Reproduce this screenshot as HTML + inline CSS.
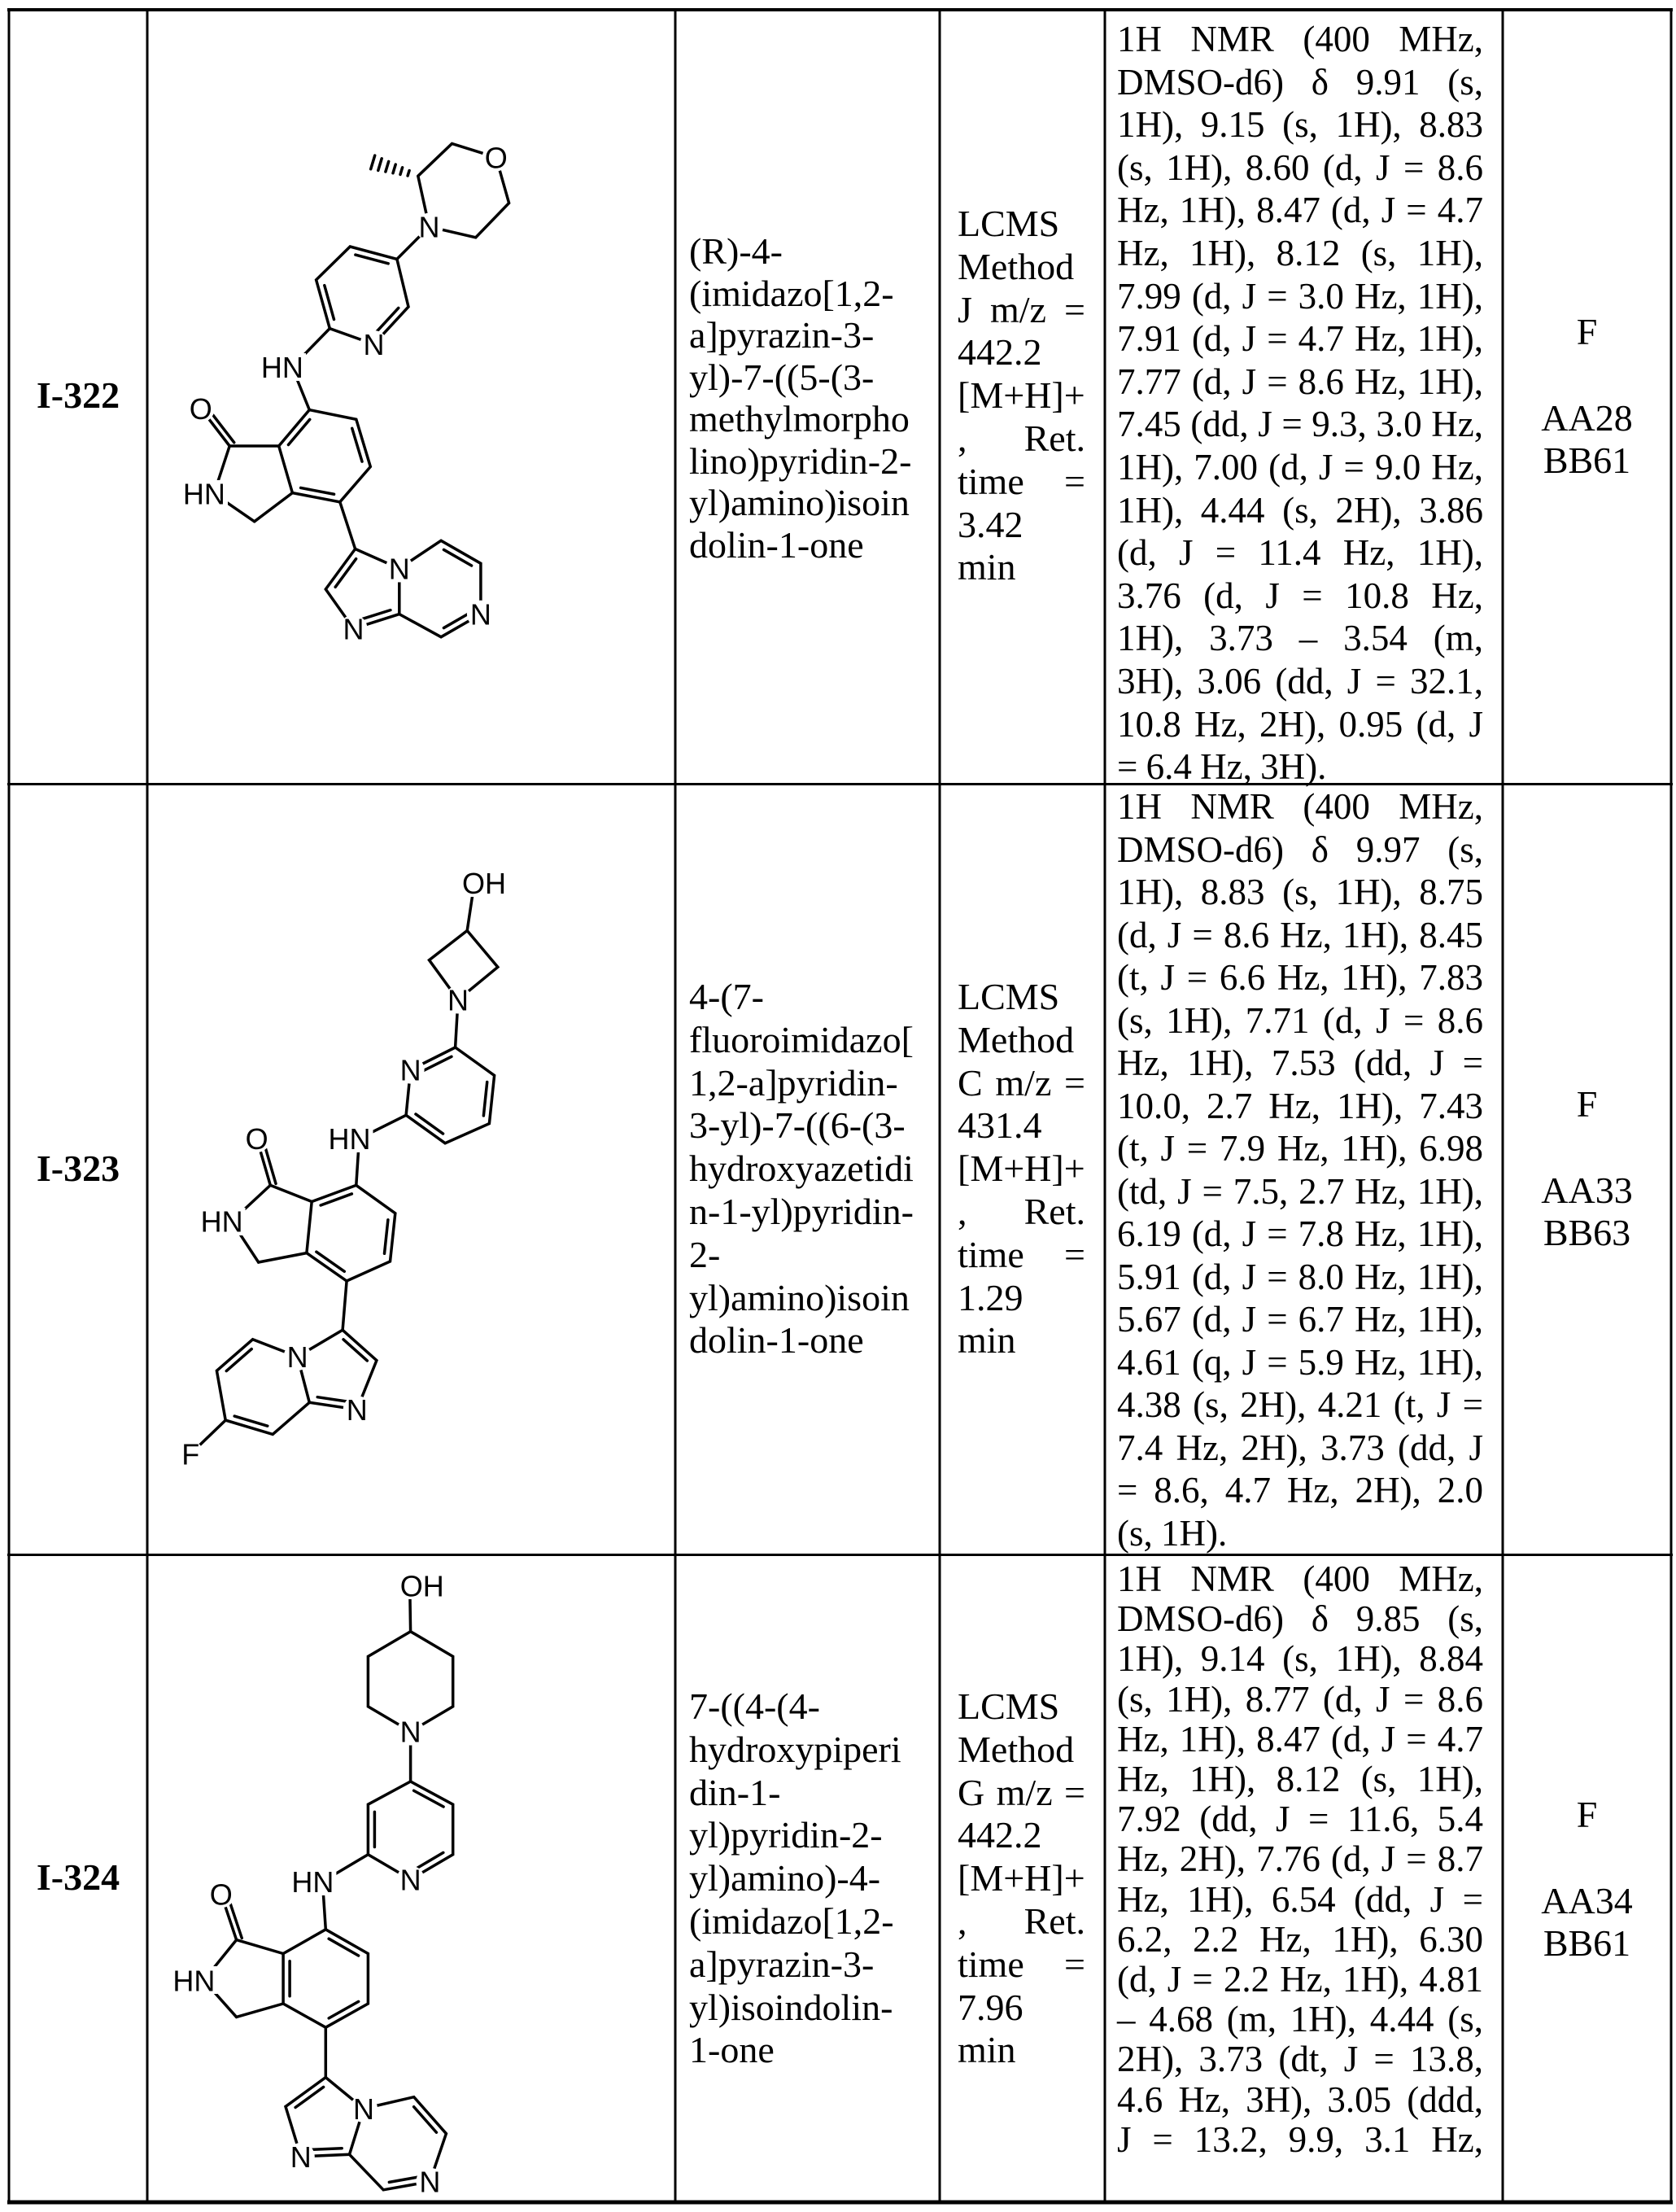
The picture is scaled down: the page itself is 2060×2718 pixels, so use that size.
<!DOCTYPE html>
<html><head><meta charset="utf-8">
<style>
html,body{margin:0;padding:0;background:#fff;}
body{width:2060px;height:2718px;position:relative;overflow:hidden;font-family:"Liberation Serif","Times New Roman",serif;color:#000;}
.t{position:absolute;font-size:46px;line-height:52.8px;white-space:nowrap;}
.id{position:absolute;font-size:46px;font-weight:bold;line-height:52.8px;width:170px;left:11px;text-align:center;}
.rc{position:absolute;font-size:46px;line-height:52.8px;width:207px;left:1847px;text-align:center;}
.nmr{position:absolute;left:1373px;width:450px;font-size:45px;word-spacing:-1px;}
.nmr div{text-align:justify;text-align-last:justify;white-space:normal;height:1em;line-height:inherit;height:auto;}
.nmr div.l{text-align-last:left;}
.lc{position:absolute;left:1177px;width:157px;font-size:46px;line-height:52.8px;}
.lc div{white-space:nowrap;}
.lc div.j{text-align:justify;text-align-last:justify;white-space:normal;}
svg{position:absolute;left:0;top:0;}
svg text{font-family:"Liberation Sans",Arial,sans-serif;font-size:36px;text-anchor:middle;fill:#000;}
</style></head>
<body>

<svg id="s" width="2060" height="2718" viewBox="0 0 2060 2718">
<g stroke="#000" stroke-width="3">
<line x1="11" y1="10" x2="11" y2="2708"/>
<line x1="181" y1="10" x2="181" y2="2708"/>
<line x1="830" y1="10" x2="830" y2="2708"/>
<line x1="1155" y1="10" x2="1155" y2="2708"/>
<line x1="1358" y1="10" x2="1358" y2="2708"/>
<line x1="1847" y1="10" x2="1847" y2="2708"/>
<line x1="2054" y1="10" x2="2054" y2="2708"/>
<line x1="9" y1="12" x2="2056" y2="12" stroke-width="4"/>
<line x1="9" y1="963.5" x2="2056" y2="963.5"/>
<line x1="9" y1="1910.5" x2="2056" y2="1910.5"/>
<line x1="9" y1="2706" x2="2056" y2="2706" stroke-width="5"/>
</g>

<g id="bonds" stroke="#000" stroke-width="3.5" stroke-linecap="round" fill="none">
<line x1="501.1" y1="216" x2="503.1" y2="209.5"/>
<line x1="492" y1="214.4" x2="494.6" y2="205.8"/>
<line x1="483" y1="212.7" x2="486.2" y2="202.1"/>
<line x1="473.9" y1="211" x2="477.7" y2="198.4"/>
<line x1="464.8" y1="209.4" x2="469.2" y2="194.8"/>
<line x1="455.7" y1="207.7" x2="460.7" y2="191.1"/>
<polyline points="513.8,216.3 555.5,176.5 609.7,193.4 625.6,249.5 584.7,291.8 527.5,278.6 513.8,216.3"/>
<line x1="527.5" y1="278.6" x2="487.9" y2="318.4"/>
<polyline points="487.9,318.4 430.3,303 388.6,343.9 405.3,403.6 459.5,423 502,377 487.9,318.4"/>
<line x1="405.3" y1="403.6" x2="359" y2="451"/>
<line x1="359" y1="451" x2="380.3" y2="503.6"/>
<polyline points="380.3,503.6 437.8,515.3 455.3,573.5 417.8,616.8 359.4,605.6 342.7,548 380.3,503.6"/>
<line x1="342.7" y1="548" x2="282.2" y2="548"/>
<line x1="282.2" y1="548" x2="246.8" y2="502"/>
<line x1="282.2" y1="548" x2="263" y2="606.6"/>
<line x1="263" y1="606.6" x2="312.7" y2="640.8"/>
<line x1="312.7" y1="640.8" x2="359.4" y2="605.6"/>
<line x1="417.8" y1="616.8" x2="436.6" y2="674.5"/>
<polyline points="436.6,674.5 490.8,698.5 490.8,754.6 434.5,772.4 400.3,724 436.6,674.5"/>
<polyline points="490.8,698.5 542.1,664.3 590.9,692.3 590.9,754.6 542.1,782.7 490.8,754.6"/>
<line x1="583" y1="1085" x2="574.2" y2="1143.5"/>
<polyline points="574.2,1143.5 611.8,1188.3 563,1228.5 527.5,1179.7 574.2,1143.5"/>
<line x1="563" y1="1228.5" x2="559.6" y2="1287"/>
<polyline points="559.6,1287 607.6,1321.5 601.4,1380.6 547.1,1404.7 499.1,1370.3 504.6,1314.6 559.6,1287"/>
<line x1="499.1" y1="1370.3" x2="441.5" y2="1399"/>
<line x1="441.5" y1="1399" x2="437.8" y2="1456.4"/>
<polyline points="437.8,1456.4 485.8,1490.8 479.5,1550 426.1,1574 376.9,1539.6 383.2,1476.5 437.8,1456.4"/>
<line x1="383.2" y1="1476.5" x2="332.3" y2="1456.4"/>
<line x1="332.3" y1="1456.4" x2="315.6" y2="1399"/>
<line x1="332.3" y1="1456.4" x2="284.6" y2="1500.6"/>
<line x1="284.6" y1="1500.6" x2="317.7" y2="1551"/>
<line x1="317.7" y1="1551" x2="376.9" y2="1539.6"/>
<line x1="426.1" y1="1574" x2="421.1" y2="1634.3"/>
<polyline points="421.1,1634.3 462.9,1671.6 438.7,1732 380.3,1723.3 365.6,1667 421.1,1634.3"/>
<polyline points="365.6,1667 310.6,1645.8 266.4,1684.3 277.2,1745.1 335.2,1762.4 380.3,1723.3"/>
<line x1="277.2" y1="1745.1" x2="234.2" y2="1786.5"/>
<line x1="503.7" y1="1948" x2="504.6" y2="2004.7"/>
<polyline points="504.6,2004.7 556.7,2035.4 556.7,2096.9 504.6,2127.6 452.4,2096.9 452.4,2035.4 504.6,2004.7"/>
<line x1="504.6" y1="2127.6" x2="504.6" y2="2189"/>
<polyline points="504.6,2189 556.7,2217.2 556.7,2278.7 504.6,2309.4 452.4,2278.7 452.4,2217.2 504.6,2189"/>
<line x1="452.4" y1="2278.7" x2="396.4" y2="2312"/>
<line x1="396.4" y1="2312" x2="400.3" y2="2370.8"/>
<polyline points="400.3,2370.8 452.4,2400.5 452.4,2462 400.3,2491.2 348.1,2462 348.1,2400.5 400.3,2370.8"/>
<line x1="348.1" y1="2400.5" x2="290.6" y2="2383.6"/>
<line x1="290.6" y1="2383.6" x2="271.8" y2="2327.3"/>
<line x1="290.6" y1="2383.6" x2="250.4" y2="2433.3"/>
<line x1="250.4" y1="2433.3" x2="290.6" y2="2478.4"/>
<line x1="290.6" y1="2478.4" x2="348.1" y2="2462"/>
<line x1="400.3" y1="2491.2" x2="400.3" y2="2552.6"/>
<polyline points="400.3,2552.6 447,2591 429.5,2647.3 369.8,2649.9 351,2588.4 400.3,2552.6"/>
<polyline points="447,2591 508.7,2576.7 548.4,2621.7 528.4,2680.6 471.2,2690.8 429.5,2647.3"/>
</g>

<g id="labels">
<g fill="#fff">
<circle cx="609.7" cy="193.4" r="17"/><circle cx="527.5" cy="278.6" r="17"/><circle cx="459.5" cy="423" r="17"/>
<rect x="318" y="434" width="58" height="34"/><circle cx="246.8" cy="502" r="17"/><rect x="222" y="590" width="58" height="34"/>
<circle cx="490.8" cy="698.5" r="17"/><circle cx="590.9" cy="754.6" r="17"/><circle cx="434.5" cy="772.4" r="17"/>
<rect x="566" y="1068" width="58" height="34"/><circle cx="563" cy="1228.5" r="17"/><circle cx="504.6" cy="1314.6" r="17"/>
<rect x="400.5" y="1382" width="58" height="34"/><circle cx="315.6" cy="1399" r="17"/><rect x="243.6" y="1484" width="58" height="34"/>
<circle cx="438.7" cy="1732" r="17"/><circle cx="365.6" cy="1667" r="17"/><circle cx="234.2" cy="1786.5" r="16"/>
<rect x="490" y="1931" width="58" height="34"/><circle cx="504.6" cy="2127.6" r="17"/><circle cx="504.6" cy="2309.4" r="17"/>
<rect x="355.4" y="2295" width="58" height="34"/><circle cx="271.8" cy="2327.3" r="17"/><rect x="209.4" y="2416" width="58" height="34"/>
<circle cx="447" cy="2591" r="17"/><circle cx="528.4" cy="2680.6" r="17"/><circle cx="369.8" cy="2649.9" r="17"/>
</g>
<text x="609.7" y="206.4">O</text>
<text x="527.5" y="291.6">N</text>
<text x="459.5" y="436">N</text>
<text x="346.9" y="464">HN</text>
<text x="246.8" y="515">O</text>
<text x="250.9" y="619.6">HN</text>
<text x="490.8" y="711.5">N</text>
<text x="590.9" y="767.6">N</text>
<text x="434.5" y="785.4">N</text>
<text x="595" y="1098">OH</text>
<text x="563" y="1241.5">N</text>
<text x="504.6" y="1327.6">N</text>
<text x="429.5" y="1412">HN</text>
<text x="315.6" y="1412">O</text>
<text x="272.6" y="1513.6">HN</text>
<text x="438.7" y="1745">N</text>
<text x="365.6" y="1680">N</text>
<text x="234.2" y="1799.5">F</text>
<text x="518.8" y="1961.4">OH</text>
<text x="504.6" y="2140.6">N</text>
<text x="504.6" y="2322.4">N</text>
<text x="384.4" y="2325">HN</text>
<text x="271.8" y="2340.3">O</text>
<text x="238.4" y="2446.3">HN</text>
<text x="447" y="2604">N</text>
<text x="528.4" y="2693.6">N</text>
<text x="369.8" y="2662.9">N</text>
</g>
</svg>

<div class="id" style="top:460px;">I-322</div>
<div class="id" style="top:1410px;">I-323</div>
<div class="id" style="top:2281px;">I-324</div>

<div class="t" style="left:847px;top:283px;line-height:51.5px;">(R)-4-<br>(imidazo[1,2-<br>a]pyrazin-3-<br>yl)-7-((5-(3-<br>methylmorpho<br>lino)pyridin-2-<br>yl)amino)isoin<br>dolin-1-one</div>
<div class="t" style="left:847px;top:1199px;">4-(7-<br>fluoroimidazo[<br>1,2-a]pyridin-<br>3-yl)-7-((6-(3-<br>hydroxyazetidi<br>n-1-yl)pyridin-<br>2-<br>yl)amino)isoin<br>dolin-1-one</div>
<div class="t" style="left:847px;top:2071px;">7-((4-(4-<br>hydroxypiperi<br>din-1-<br>yl)pyridin-2-<br>yl)amino)-4-<br>(imidazo[1,2-<br>a]pyrazin-3-<br>yl)isoindolin-<br>1-one</div>

<div class="lc" style="top:249px;"><div>LCMS</div><div>Method</div><div class="j">J m/z =</div><div>442.2</div><div>[M+H]+</div><div class="j">, Ret.</div><div class="j">time =</div><div>3.42</div><div>min</div></div>
<div class="lc" style="top:1199px;"><div>LCMS</div><div>Method</div><div class="j">C m/z =</div><div>431.4</div><div>[M+H]+</div><div class="j">, Ret.</div><div class="j">time =</div><div>1.29</div><div>min</div></div>
<div class="lc" style="top:2071px;"><div>LCMS</div><div>Method</div><div class="j">G m/z =</div><div>442.2</div><div>[M+H]+</div><div class="j">, Ret.</div><div class="j">time =</div><div>7.96</div><div>min</div></div>

<div class="nmr" style="top:22px;line-height:52.6px;">
<div>1H NMR (400 MHz,</div>
<div>DMSO-d6) δ 9.91 (s,</div>
<div>1H), 9.15 (s, 1H), 8.83</div>
<div>(s, 1H), 8.60 (d, J = 8.6</div>
<div>Hz, 1H), 8.47 (d, J = 4.7</div>
<div>Hz, 1H), 8.12 (s, 1H),</div>
<div>7.99 (d, J = 3.0 Hz, 1H),</div>
<div>7.91 (d, J = 4.7 Hz, 1H),</div>
<div>7.77 (d, J = 8.6 Hz, 1H),</div>
<div>7.45 (dd, J = 9.3, 3.0 Hz,</div>
<div>1H), 7.00 (d, J = 9.0 Hz,</div>
<div>1H), 4.44 (s, 2H), 3.86</div>
<div>(d, J = 11.4 Hz, 1H),</div>
<div>3.76 (d, J = 10.8 Hz,</div>
<div>1H), 3.73 – 3.54 (m,</div>
<div>3H), 3.06 (dd, J = 32.1,</div>
<div>10.8 Hz, 2H), 0.95 (d, J</div>
<div class="l">= 6.4 Hz, 3H).</div>
</div>
<div class="nmr" style="top:965px;line-height:52.5px;">
<div>1H NMR (400 MHz,</div>
<div>DMSO-d6) δ 9.97 (s,</div>
<div>1H), 8.83 (s, 1H), 8.75</div>
<div>(d, J = 8.6 Hz, 1H), 8.45</div>
<div>(t, J = 6.6 Hz, 1H), 7.83</div>
<div>(s, 1H), 7.71 (d, J = 8.6</div>
<div>Hz, 1H), 7.53 (dd, J =</div>
<div>10.0, 2.7 Hz, 1H), 7.43</div>
<div>(t, J = 7.9 Hz, 1H), 6.98</div>
<div>(td, J = 7.5, 2.7 Hz, 1H),</div>
<div>6.19 (d, J = 7.8 Hz, 1H),</div>
<div>5.91 (d, J = 8.0 Hz, 1H),</div>
<div>5.67 (d, J = 6.7 Hz, 1H),</div>
<div>4.61 (q, J = 5.9 Hz, 1H),</div>
<div>4.38 (s, 2H), 4.21 (t, J =</div>
<div>7.4 Hz, 2H), 3.73 (dd, J</div>
<div>= 8.6, 4.7 Hz, 2H), 2.0</div>
<div class="l">(s, 1H).</div>
</div>
<div class="nmr" style="top:1916px;line-height:49.2px;">
<div>1H NMR (400 MHz,</div>
<div>DMSO-d6) δ 9.85 (s,</div>
<div>1H), 9.14 (s, 1H), 8.84</div>
<div>(s, 1H), 8.77 (d, J = 8.6</div>
<div>Hz, 1H), 8.47 (d, J = 4.7</div>
<div>Hz, 1H), 8.12 (s, 1H),</div>
<div>7.92 (dd, J = 11.6, 5.4</div>
<div>Hz, 2H), 7.76 (d, J = 8.7</div>
<div>Hz, 1H), 6.54 (dd, J =</div>
<div>6.2, 2.2 Hz, 1H), 6.30</div>
<div>(d, J = 2.2 Hz, 1H), 4.81</div>
<div>– 4.68 (m, 1H), 4.44 (s,</div>
<div>2H), 3.73 (dt, J = 13.8,</div>
<div>4.6 Hz, 3H), 3.05 (ddd,</div>
<div>J = 13.2, 9.9, 3.1 Hz,</div>
</div>

<div class="rc" style="top:382px;">F<br>&nbsp;<br>AA28<br>BB61</div>
<div class="rc" style="top:1331px;">F<br>&nbsp;<br>AA33<br>BB63</div>
<div class="rc" style="top:2204px;">F<br>&nbsp;<br>AA34<br>BB61</div>

<script>
(function(){
var g=document.getElementById('bonds');
var NS='http://www.w3.org/2000/svg';
function L(a,b,c,d){var l=document.createElementNS(NS,'line');l.setAttribute('x1',a);l.setAttribute('y1',b);l.setAttribute('x2',c);l.setAttribute('y2',d);g.appendChild(l);}
function D(x1,y1,x2,y2,cx,cy){var dx=x2-x1,dy=y2-y1,len=Math.sqrt(dx*dx+dy*dy);var nx=-dy/len,ny=dx/len;var mx=(x1+x2)/2,my=(y1+y2)/2;if(nx*(cx-mx)+ny*(cy-my)<0){nx=-nx;ny=-ny;}var o=8,s=0.15;L(x1+dx*s+nx*o,y1+dy*s+ny*o,x2-dx*s+nx*o,y2-dy*s+ny*o);}
function P(x1,y1,x2,y2,side){var dx=x2-x1,dy=y2-y1,len=Math.sqrt(dx*dx+dy*dy);var nx=-dy/len*side*7,ny=dx/len*side*7;L(x1+nx,y1+ny,x2+nx,y2+ny);}
var c=[445.6,361];
D(487.9,318.4,430.3,303,c[0],c[1]);D(388.6,343.9,405.3,403.6,c[0],c[1]);D(459.5,423,502,377,c[0],c[1]);
c=[398.9,560.5];
D(342.7,548,380.3,503.6,c[0],c[1]);D(437.8,515.3,455.3,573.5,c[0],c[1]);D(417.8,616.8,359.4,605.6,c[0],c[1]);
P(282.2,548,246.8,502,1);
c=[450.6,724.8];
D(436.6,674.5,400.3,724,c[0],c[1]);D(490.8,754.6,434.5,772.4,c[0],c[1]);
c=[541.5,723.5];
D(542.1,664.3,590.9,692.3,c[0],c[1]);D(590.9,754.6,542.1,782.7,c[0],c[1]);
c=[553.3,1346.5];
D(559.6,1287,504.6,1314.6,c[0],c[1]);D(607.6,1321.5,601.4,1380.6,c[0],c[1]);D(547.1,1404.7,499.1,1370.3,c[0],c[1]);
c=[431.6,1514.5];
D(437.8,1456.4,383.2,1476.5,c[0],c[1]);D(485.8,1490.8,479.5,1550,c[0],c[1]);D(426.1,1574,376.9,1539.6,c[0],c[1]);
P(332.3,1456.4,315.6,1399,1);
c=[413.7,1685.6];
D(421.1,1634.3,462.9,1671.6,c[0],c[1]);D(380.3,1723.3,438.7,1732,c[0],c[1]);
c=[322.5,1704.6];
D(310.6,1645.8,266.4,1684.3,c[0],c[1]);D(277.2,1745.1,335.2,1762.4,c[0],c[1]);
c=[504.6,2249];
D(504.6,2189,556.7,2217.2,c[0],c[1]);D(556.7,2278.7,504.6,2309.4,c[0],c[1]);D(452.4,2278.7,452.4,2217.2,c[0],c[1]);
c=[400.3,2431];
D(400.3,2370.8,452.4,2400.5,c[0],c[1]);D(452.4,2462,400.3,2491.2,c[0],c[1]);D(348.1,2462,348.1,2400.5,c[0],c[1]);
P(290.6,2383.6,271.8,2327.3,1);
c=[399.5,2606];
D(400.3,2552.6,351,2588.4,c[0],c[1]);D(429.5,2647.3,369.8,2649.9,c[0],c[1]);
c=[489,2635];
D(508.7,2576.7,548.4,2621.7,c[0],c[1]);D(528.4,2680.6,471.2,2690.8,c[0],c[1]);
var s=document.getElementById('s');s.appendChild(document.getElementById('labels'));
})();
</script>
</body></html>
